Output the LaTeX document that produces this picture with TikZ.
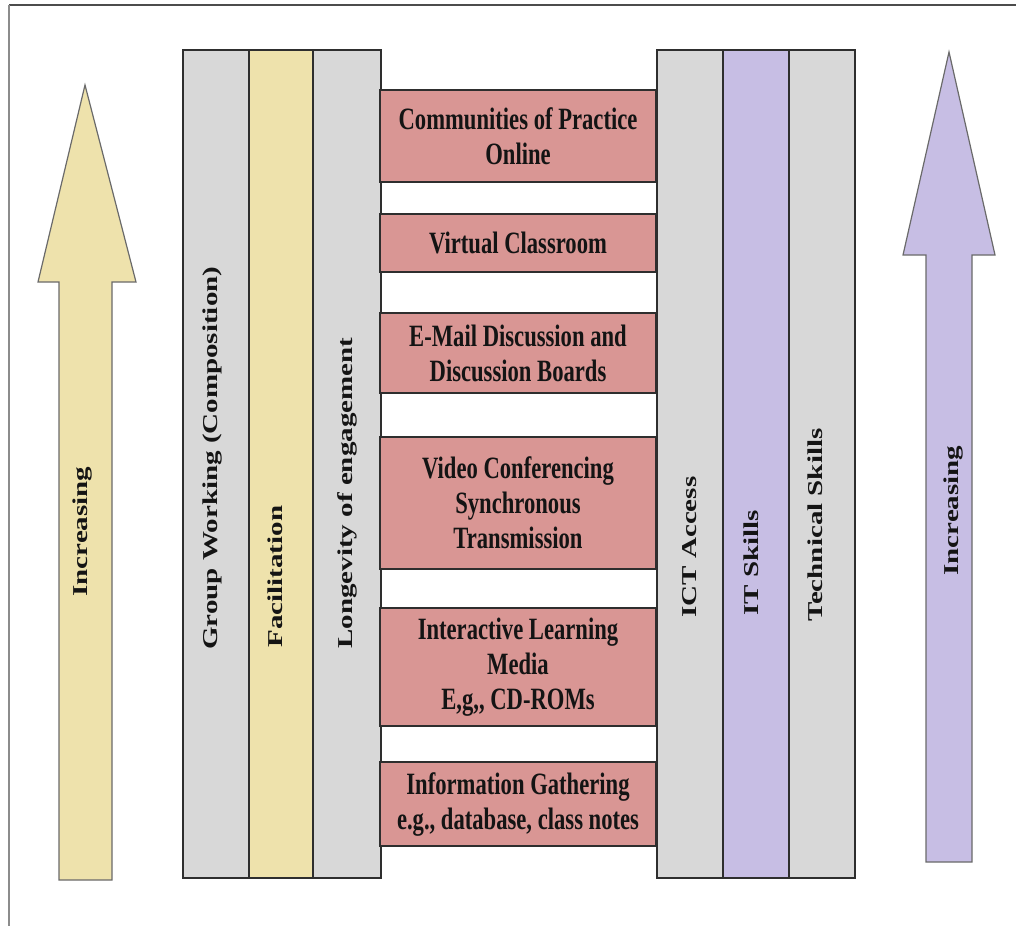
\documentclass[tikz,border=0pt]{standalone}
\usepackage{fontspec}
\setmainfont{Liberation Serif}
\newfontfamily\boxfont[FakeStretch=0.73]{Liberation Serif}
\newcommand{\sqz}[1]{\scalebox{1}[0.73]{#1}}

\definecolor{colgray}{HTML}{D8D8D8}
\definecolor{colyellow}{HTML}{EEE2AC}
\definecolor{colpurple}{HTML}{C7BEE4}
\definecolor{colpink}{HTML}{D99694}
\definecolor{edge}{HTML}{2E2E2E}
\definecolor{arrowedge}{HTML}{6A6A6A}
\definecolor{ink}{HTML}{141414}

\tikzset{
  bar/.style={draw=edge, line width=0.8pt, inner sep=0pt, minimum height=414pt},
  item/.style={draw=edge, line width=0.8pt, fill=colpink, align=center,
    text=ink, inner sep=0pt, minimum width=138pt,
    font=\boxfont\bfseries\fontsize{15.5}{17.5}\selectfont},
  vlabel/.style={rotate=90, anchor=west, inner sep=0pt, text=ink,
    font=\bfseries\fontsize{14.5}{16}\selectfont},
  bigarrow/.style={draw=arrowedge, line width=0.6pt, line join=miter}
}

\begin{document}
\begin{tikzpicture}[x=0.5pt, y=-0.5pt]
\useasboundingbox (0,0) rectangle (1016,926);

% frame lines
\draw[line width=1pt, draw=black!70] (1016,5) -- (9,5);
\draw[line width=1pt, draw=black!45] (9,5) -- (9,926);

% increasing arrows
\draw[bigarrow, fill=colyellow] (85,85) -- (136,282) -- (112,282) -- (112,880)
  -- (59,880) -- (59,282) -- (38,282) -- cycle;
\draw[bigarrow, fill=colpurple] (949,52) -- (995,255) -- (972,255) -- (972,862)
  -- (926,862) -- (926,255) -- (903,255) -- cycle;
\node[vlabel] (incL) at (82,597) {\sqz{Increasing}};
\node[vlabel] (incR) at (953,576) {\sqz{Increasing}};

% left group of columns
\node[bar, fill=colgray,   minimum width=33pt] (gwcol)  at (216,464) {};
\node[bar, fill=colyellow, minimum width=32pt] (faccol) at (281,464) {};
\node[bar, fill=colgray,   minimum width=34pt] (loncol) at (347,464) {};

% right group of columns
\node[bar, fill=colgray,   minimum width=33pt] (ictcol) at (690,464) {};
\node[bar, fill=colpurple, minimum width=33pt] (itcol)  at (756,464) {};
\node[bar, fill=colgray,   minimum width=33pt] (teccol) at (822,464) {};

% column labels
\node[vlabel] (gw)  at (212,650) {\sqz{Group Working (Composition)}};
\node[vlabel] (fac) at (275,648) {\sqz{Facilitation}};
\node[vlabel] (lon) at (347,649) {\sqz{Longevity of engagement}};
\node[vlabel] (ict) at (690,618) {\sqz{ICT Access}};
\node[vlabel] (its) at (751,616) {\sqz{IT Skills}};
\node[vlabel] (tec) at (815,622) {\sqz{Technical Skills}};

% delivery modes
\node[item, minimum height=46pt] (cop)  at (518,136) {Communities of Practice\\Online};
\node[item, minimum height=29pt] (vc)   at (518,243) {Virtual Classroom};
\node[item, minimum height=40pt] (mail) at (518,353) {E-Mail Discussion and\\Discussion Boards};
\node[item, minimum height=66pt] (vid)  at (518,503) {Video Conferencing\\Synchronous\\Transmission};
\node[item, minimum height=59pt] (ilm)  at (518,667) {Interactive Learning\\Media\\E,g,, CD-ROMs};
\node[item, minimum height=42pt] (info) at (518,804) {Information Gathering\\e.g., database, class notes};
\end{tikzpicture}
\end{document}
